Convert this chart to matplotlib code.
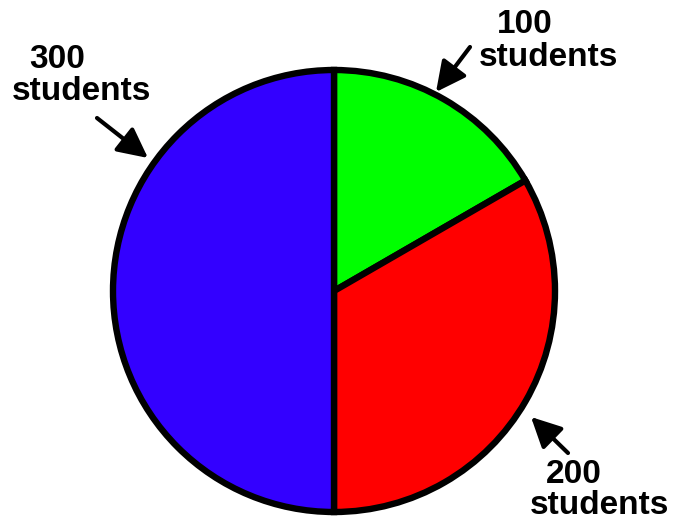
import matplotlib
matplotlib.use("Agg")
import matplotlib.pyplot as plt

# Data
values = [100, 200, 300]
colors = ["#00FF00", "#FF0000", "#3300FF"]
number_labels = ["100", "200", "300"]
unit_label = "students"

W, H = 679, 521
fig = plt.figure(figsize=(W / 100, H / 100), dpi=100)
ax = fig.add_axes([0, 0, 1, 1])
ax.set_xlim(0, W)
ax.set_ylim(0, H)
ax.set_aspect("equal")
ax.axis("off")

def Y(y):
    return H - y

cx, cy, r = 334, 291, 221
ax.pie(values, colors=colors, startangle=90, counterclock=False,
       center=(cx, Y(cy)), radius=r, frame=True,
       wedgeprops=dict(edgecolor="black", linewidth=4.6))
ax.set_xlim(0, W)
ax.set_ylim(0, H)
ax.axis("off")

font = dict(family=["Liberation Sans", "DejaVu Sans"], fontsize=24,
            fontweight="bold", color="black", ha="left", va="baseline")

# label positions (number line, unit line) for each value
num_pos = [(497, 33), (546, 483), (29, 68)]
unit_pos = [(479, 66), (530, 514), (12, 100)]
for lab, (nx, ny), (ux, uy) in zip(number_labels, num_pos, unit_pos):
    ax.text(nx, Y(ny), lab, **font)
    ax.text(ux, Y(uy), unit_label, **font)

arrows = [((470, 47), (436, 92)), ((568, 453), (531, 417)), ((97, 118), (148, 158))]
for tail, tip in arrows:
    ax.annotate("", xy=(tip[0], Y(tip[1])), xytext=(tail[0], Y(tail[1])),
                arrowprops=dict(arrowstyle="-|>,head_length=1.4,head_width=0.7",
                                lw=3, color="black", mutation_scale=13,
                                shrinkA=0, shrinkB=0))

fig.savefig("out.png", dpi=100)
